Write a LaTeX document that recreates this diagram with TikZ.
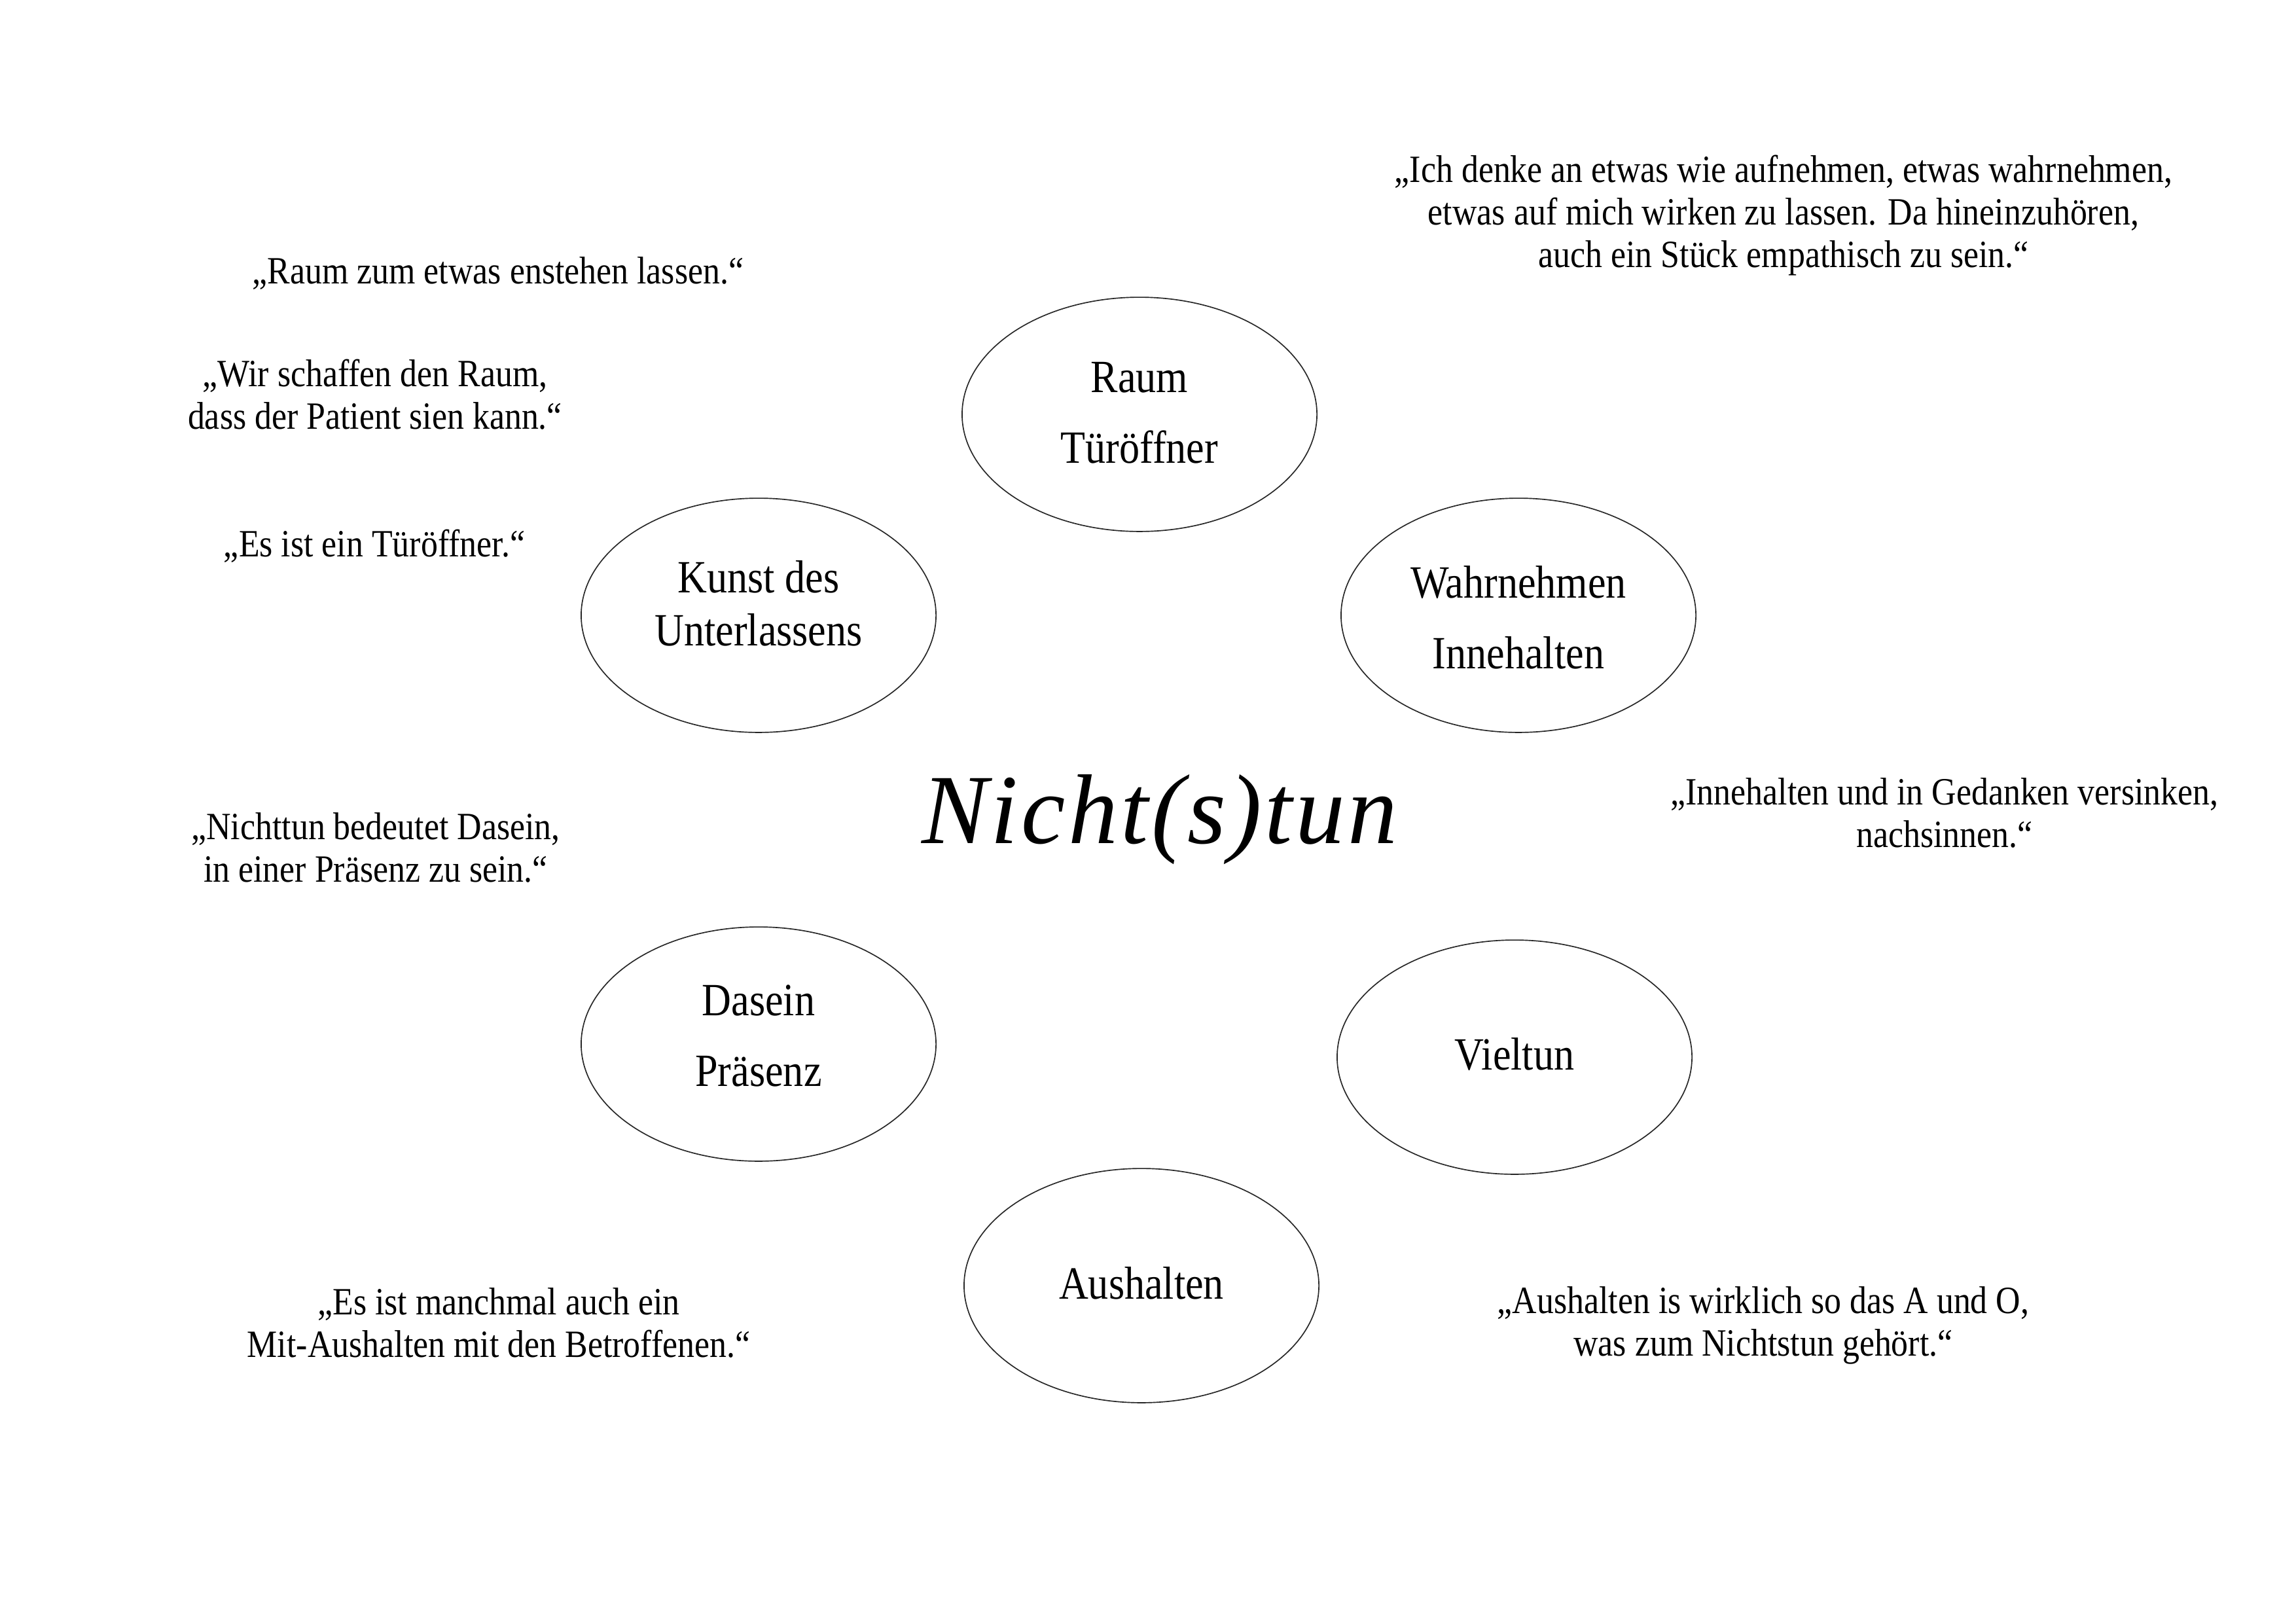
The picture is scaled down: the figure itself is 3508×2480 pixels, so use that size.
\documentclass[tikz,border=0pt]{standalone}
\usepackage{fontspec}
\setmainfont{Liberation Serif}[FakeStretch=0.88]
\newfontfamily\titlefont{Liberation Serif}[LetterSpace=3]
\usetikzlibrary{shapes.geometric}
\tikzset{
  bubble/.style={draw=black!85, line width=0.4pt, ellipse, minimum width=130.6pt, minimum height=86.2pt, inner sep=0pt},
  bubbletext/.style={align=center, inner sep=0pt, font=\fontsize{17}{26}\selectfont},
  quote/.style={align=center, inner sep=0pt, font=\fontsize{14.2}{15.7}\selectfont},
  titlestyle/.style={inner sep=0pt, font=\titlefont\itshape\fontsize{36.5}{44}\selectfont}
}
\begin{document}
\begin{tikzpicture}[x=0.24088pt,y=-0.24088pt]
\useasboundingbox[fill=white] (0,0) rectangle (3508,2480);
% title
\node[titlestyle] (title) at (1772,1252) {Nicht(s)tun};
% bubbles
\node[bubble] (raum) at (1741,633) {};
\node[bubbletext] (raumtxt) at (1741,631) {Raum\\Türöffner};
\node[bubble] (kunst) at (1159,940) {};
\node[bubbletext, font=\fontsize{17}{19.4}\selectfont] (kunsttxt) at (1159,922) {Kunst des\\Unterlassens};
\node[bubble] (wahr) at (2320,940) {};
\node[bubbletext] (wahrtxt) at (2320,943) {Wahrnehmen\\Innehalten};
\node[bubble] (dasein) at (1159,1595) {};
\node[bubbletext] (daseintxt) at (1159,1582) {Dasein\\Präsenz};
\node[bubble] (viel) at (2314,1615) {};
\node[bubbletext] (vieltxt) at (2314,1611) {Vieltun};
\node[bubble] (aus) at (1744,1964) {};
\node[bubbletext] (austxt) at (1744,1960) {Aushalten};
% quotes
\node[quote] (q1) at (2725,329) {„Ich denke an etwas wie aufnehmen, etwas wahrnehmen,\\etwas auf mich wirken zu lassen. Da hineinzuhören,\\auch ein Stück empathisch zu sein.“};
\node[quote] (q2) at (761,418) {„Raum zum etwas enstehen lassen.“};
\node[quote] (q3) at (573,603) {„Wir schaffen den Raum,\\dass der Patient sien kann.“};
\node[quote] (q4) at (572,834) {„Es ist ein Türöffner.“};
\node[quote] (q5) at (574,1295) {„Nichttun bedeutet Dasein,\\in einer Präsenz zu sein.“};
\node[quote] (q6) at (2971,1242) {„Innehalten und in Gedanken versinken,\\nachsinnen.“};
\node[quote] (q7) at (762,2021) {„Es ist manchmal auch ein\\Mit-Aushalten mit den Betroffenen.“};
\node[quote] (q8) at (2694,2025) {„Aushalten is wirklich so das A und O,\\was zum Nichtstun gehört.“};
\end{tikzpicture}
\end{document}
